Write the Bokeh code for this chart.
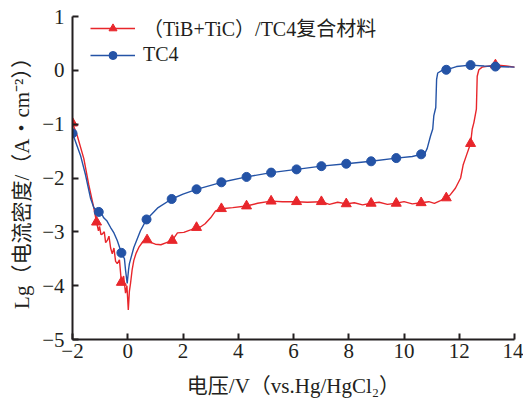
from bokeh.plotting import figure
from bokeh.models import Range1d, Legend, LegendItem, FixedTicker
from bokeh.embed import file_html
from bokeh.resources import INLINE

# ---- data ----
x_ticks = [-2, 0, 2, 4, 6, 8, 10, 12, 14]
y_ticks = [-5, -4, -3, -2, -1, 0, 1]

comp_label = "（TiB+TiC）/TC4复合材料"
tc4_label = "TC4"
x_title = "电压/V（vs.Hg/HgCl₂）"
y_title = "Lg（电流密度/（A・cm⁻²））"

comp_x = [-2.0, -1.83, -1.59, -1.41, -1.23, -1.13, -1.06, -1.02, -0.97, -0.92, -0.85,
          -0.80, -0.74, -0.68, -0.62, -0.56, -0.50, -0.44, -0.38, -0.30, -0.23,
          -0.15, -0.08, -0.03, 0.02, 0.06, 0.10, 0.16, 0.22, 0.30, 0.40, 0.55, 0.70,
          0.85, 1.00, 1.20, 1.40, 1.61, 1.80, 2.03, 2.30, 2.49, 2.63, 2.80, 3.00,
          3.18, 3.39, 3.80, 4.30, 4.70, 5.19, 5.60, 6.11, 6.50, 7.01, 7.30, 7.60,
          7.91, 8.20, 8.50, 8.81, 9.10, 9.40, 9.72, 10.00, 10.30, 10.62, 10.90,
          11.10, 11.32, 11.53, 11.68, 11.86, 12.05, 12.14, 12.26, 12.41, 12.47,
          12.53, 12.62, 12.65, 12.71, 12.83, 13.31, 13.70, 14.02]
comp_y = [-0.98, -1.21, -1.64, -2.13, -2.55, -2.82, -2.98, -2.90, -3.05, -3.04, -3.00,
          -3.20, -3.16, -3.08, -3.30, -3.41, -3.30, -3.55, -3.59, -3.52, -3.94,
          -3.82, -4.14, -4.00, -4.45, -4.10, -3.96, -3.70, -3.53, -3.40, -3.29,
          -3.18, -3.15, -3.20, -3.23, -3.24, -3.20, -3.16, -3.02, -3.01, -2.96,
          -2.92, -2.91, -2.85, -2.74, -2.61, -2.57, -2.55, -2.52, -2.47, -2.43,
          -2.44, -2.44, -2.45, -2.44, -2.49, -2.45, -2.48, -2.46, -2.50, -2.47,
          -2.45, -2.49, -2.47, -2.44, -2.48, -2.46, -2.44, -2.47, -2.42, -2.37,
          -2.31, -2.19, -2.00, -1.76, -1.58, -1.36, -1.09, -0.97, -0.72, -0.11,
          0.01, 0.06, 0.10, 0.08, 0.06]

tc4_x = [-2.0, -1.71, -1.53, -1.35, -1.23, -1.05, -0.95, -0.87, -0.75, -0.62, -0.50,
         -0.38, -0.23, -0.12, -0.08, -0.02, 0.03, 0.06, 0.22, 0.46, 0.68, 1.10, 1.59,
         2.00, 2.49, 3.39, 4.30, 5.19, 6.11, 7.01, 7.91, 8.81, 9.72, 10.30, 10.62,
         10.75, 10.84, 10.96, 11.04, 11.08, 11.15, 11.18, 11.22, 11.38, 11.53,
         11.90, 12.41, 12.90, 13.31, 14.02]
tc4_y = [-1.17, -1.58, -1.94, -2.37, -2.55, -2.63, -2.66, -2.74, -2.80, -2.92, -3.02,
         -3.16, -3.39, -3.50, -3.71, -3.96, -3.70, -3.59, -3.29, -2.98, -2.77,
         -2.55, -2.39, -2.30, -2.21, -2.08, -1.98, -1.90, -1.84, -1.78, -1.735,
         -1.69, -1.63, -1.60, -1.56, -1.55, -1.45, -1.22, -1.09, -0.84, -0.69,
         -0.17, -0.05, 0.00, 0.01, 0.07, 0.097, 0.08, 0.07, 0.06]

comp_mx = [-2.0, -1.13, -0.23, 0.70, 1.61, 2.49, 3.39, 4.30, 5.19, 6.11, 7.01, 7.91,
           8.81, 9.72, 10.62, 11.53, 12.41, 13.31]
comp_my = [-0.98, -2.82, -3.94, -3.15, -3.16, -2.92, -2.57, -2.52, -2.43, -2.44,
           -2.44, -2.48, -2.47, -2.47, -2.46, -2.37, -1.36, 0.10]
tc4_mx = [-2.0, -1.05, -0.23, 0.68, 1.59, 2.49, 3.39, 4.30, 5.19, 6.11, 7.01, 7.91,
          8.81, 9.72, 10.62, 11.53, 12.41, 13.31]
tc4_my = [-1.17, -2.63, -3.39, -2.77, -2.39, -2.21, -2.08, -1.98, -1.90, -1.84,
          -1.78, -1.735, -1.69, -1.63, -1.56, 0.01, 0.097, 0.07]

# ---- style ----
RED = "#e8262b"
BLUE = "#2453a6"
INK = "#231f20"
FONT = "Liberation Serif, Noto Sans CJK SC"
FS = "21px"

p = figure(width=523, height=400, output_backend="svg", toolbar_location=None,
           x_range=Range1d(-2, 14), y_range=Range1d(-5, 1),
           min_border_left=72, min_border_right=9, min_border_top=16, min_border_bottom=57)
p.outline_line_color = None
p.grid.visible = False
p.background_fill_color = "white"
p.border_fill_color = "white"

for ax in (p.xaxis[0], p.yaxis[0]):
    ax.axis_line_width = 2
    ax.axis_line_color = INK
    ax.major_tick_in = 6
    ax.major_tick_out = 0
    ax.major_tick_line_width = 2
    ax.major_tick_line_color = INK
    ax.minor_tick_line_color = None
    ax.major_label_text_font = FONT
    ax.major_label_text_font_size = FS
    ax.major_label_text_color = INK
    ax.axis_label_text_font = FONT
    ax.axis_label_text_font_size = "21px"
    ax.axis_label_text_font_style = "normal"
    ax.axis_label_text_color = INK

p.xaxis.ticker = FixedTicker(ticks=x_ticks)
p.yaxis.ticker = FixedTicker(ticks=y_ticks)
p.xaxis.major_label_overrides = {t: (str(t).replace("-", "−")) for t in x_ticks}
p.yaxis.major_label_overrides = {t: (str(t).replace("-", "−")) for t in y_ticks}
p.xaxis.major_label_standoff = 4
p.yaxis.major_label_standoff = 8
p.xaxis.axis_label = x_title
p.yaxis.axis_label = y_title
p.xaxis.axis_label_standoff = 13
p.yaxis.axis_label_standoff = 5

r_comp_line = p.line(comp_x, comp_y, line_color=RED, line_width=1.4)
r_tc4_line = p.line(tc4_x, tc4_y, line_color=BLUE, line_width=1.4)
r_comp_m = p.scatter(comp_mx, comp_my, marker="triangle", size=10,
                     fill_color=RED, line_color=RED)
r_tc4_m = p.scatter(tc4_mx, tc4_my, marker="circle", size=9,
                    fill_color=BLUE, line_color=BLUE)

legend_style = dict(glyph_width=45, glyph_height=20, label_height=20,
                    spacing=0, padding=0, margin=0, label_standoff=8,
                    border_line_color=None, background_fill_alpha=0,
                    label_text_font=FONT, label_text_font_size="20px", label_text_color=INK)
legend1 = Legend(items=[LegendItem(label=comp_label, renderers=[r_comp_line, r_comp_m])],
                 location=(18, 297), **legend_style)
legend2 = Legend(items=[LegendItem(label=tc4_label, renderers=[r_tc4_line, r_tc4_m])],
                 location=(18, 273), **legend_style)
p.add_layout(legend1)
p.add_layout(legend2)

open("out.html", "w").write(file_html(p, INLINE))
